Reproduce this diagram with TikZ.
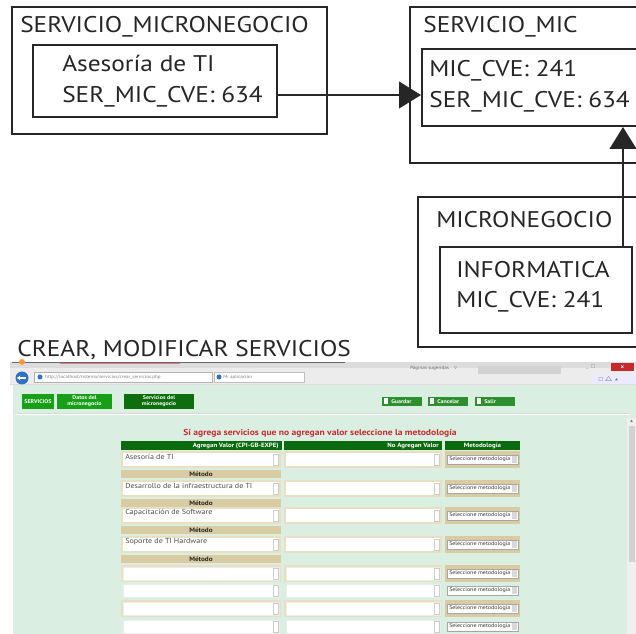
\documentclass[tikz,border=0pt]{standalone}
\usepackage{amssymb}
\usepackage{fontspec}
\setmainfont{PT Sans}[FakeStretch=1.12]
\usetikzlibrary{arrows.meta,fit}

\definecolor{ink}{HTML}{262626}
\definecolor{page}{HTML}{DAEFE2}
\definecolor{hdrgreen}{HTML}{0A6A0E}
\definecolor{btngreen}{HTML}{17A017}
\definecolor{btndark}{HTML}{0E6E0E}
\definecolor{btnmid}{HTML}{2E8F2E}
\definecolor{tan}{HTML}{D9CCA3}
\definecolor{tanlt}{HTML}{E9DFC2}
\definecolor{alert}{HTML}{C4292E}
\definecolor{chrome}{HTML}{DCDCDC}
\definecolor{chromelt}{HTML}{ECECEC}
\definecolor{backblue}{HTML}{2F6FC8}

\tikzset{
  entity/.style={draw=ink, line width=1.5pt, inner sep=0pt},
  ttl/.style={anchor=base west, inner sep=0pt, text=ink, font=\fontsize{17}{20}\selectfont},
  conn/.style={draw=ink, line width=1.7pt, -{Triangle[length=16.5pt,width=20pt]}},
  tiny/.style={inner sep=0pt, font=\fontsize{3.4}{4}\selectfont},
  tinyw/.style={tiny, text=white, font=\fontsize{4}{4.5}\selectfont\bfseries},
  celltext/.style={inner sep=0pt, anchor=west, text=gray!60!black, font=\fontsize{5.4}{6}\selectfont},
  seltext/.style={inner sep=0pt, anchor=west, text=gray!40!black, font=\fontsize{4}{4.5}\selectfont},
  hdrtext/.style={inner sep=0pt, text=white, font=\fontsize{4.6}{5}\selectfont\bfseries},
  bartext/.style={inner sep=0pt, text=gray!30!black, font=\fontsize{4.8}{5.5}\selectfont\bfseries},
}

\begin{document}
\begin{tikzpicture}[x=0.75pt,y=-0.75pt]

% ---------------- entity boxes ----------------
\node[entity, fit={(12,7)(327,134)}] (smOuter) {};
\node[entity, fit={(33,45)(277,117)}] (smInner) {};
\node[ttl] (smTitle) at (20,33) {SERVICIO\_MICRONEGOCIO};
\node[ttl] (smName) at (62,72) {Asesoría de TI};
\node[ttl] (smKey) at (62,103) {SER\_MIC\_CVE: 634};

\node[entity, fit={(410,7)(680,163)}] (mOuter) {};
\node[entity, fit={(422,49)(660,126)}] (mInner) {};
\node[ttl] (mTitle) at (423,33) {SERVICIO\_MIC};
\node[ttl] (mMic) at (429,77) {MIC\_CVE: 241};
\node[ttl] (mSer) at (429,108) {SER\_MIC\_CVE: 634};

\node[entity, fit={(418,197)(680,347)}] (micOuter) {};
\node[entity, fit={(440,247)(632,333)}] (micInner) {};
\node[ttl] (micTitle) at (436,228) {MICRONEGOCIO};
\node[ttl] (micName) at (456,278) {INFORMATICA};
\node[ttl] (micKey) at (456,308) {MIC\_CVE: 241};

% ---------------- relations ----------------
\coordinate (row1) at (0,95);
\coordinate (col1) at (623,0);
\draw[conn] (smInner.east |- row1) -- (mInner.west |- row1);
\draw[conn] (col1 |- micInner.north) -- (col1 |- mInner.south);

% ---------------- caption ----------------
\node[ttl] (caption) at (17,357) {CREAR, MODIFICAR SERVICIOS};

% ---------------- screen capture ----------------
% window chrome
\fill[chrome] (10,362) rectangle (636,385);
\fill[chromelt] (10,368) rectangle (636,384);
\draw[gray!80!black, line width=0.8pt] (12,362.5) -- (345,362.5);
\draw[alert!60, line width=0.5pt] (60,363.5) -- (180,363.5);
\fill[orange!80] (22,362) circle (3);
\fill[backblue] (22,378) circle (6.5);
\draw[white, line width=1.1pt, -{Stealth[length=2.5pt,width=3.5pt]}] (26,378) -- (17,378);
\filldraw[fill=white, draw=gray!60, line width=0.3pt] (34,372) rectangle (212,382);
\fill[backblue] (40,377) circle (2.5);
\node[tiny, anchor=west, text=gray] (url) at (45,377) {http://localhost/sistema/servicios/crear\_servicios.php};
\filldraw[fill=white, draw=gray!50, line width=0.3pt] (214,372) rectangle (304,382);
\fill[backblue] (219,377) circle (2.5);
\node[tiny, anchor=west, text=gray] (tab) at (223,377) {Mi aplicación};
\node[tiny, anchor=west, text=gray!80!black] (sugg) at (410,368) {Páginas sugeridas\quad$\triangledown$};
\fill[gray!35] (478,366) rectangle (561,374);
\node[tiny, anchor=west, text=gray] (winctl) at (586,367) {\_\enspace$\square$};
\fill[alert] (611,363) rectangle (634,371);
\node[tinyw] (winx) at (622.5,367) {x};
\fill[blue!8] (592,375) rectangle (636,384);
\node[tiny, anchor=west, text=gray!70!black] (icons) at (598,379.5) {$\square$\ $\triangle$\ $\star$};

% page area
\fill[page] (13,385) rectangle (636,634);
\draw[white, line width=0.8pt] (15,414.5) -- (630,414.5);
\draw[gray!30, line width=0.4pt] (15,413.5) -- (630,413.5);

% scroll bar
\fill[gray!12] (627,418) rectangle (636,634);
\fill[gray!35] (628.5,426) rectangle (634.5,562);
\node[tiny, text=gray] (scrup) at (631.5,421) {$\blacktriangle$};

% navigation buttons
\fill[btngreen] (22,394) rectangle (54,409);
\node[tinyw] (nav1) at (38,401.5) {SERVICIOS};
\fill[btngreen] (57,394) rectangle (112,409);
\node[tinyw, align=center] (nav2) at (84.5,401.5) {Datos del\\micronegocio};
\fill[btndark] (124,394) rectangle (194,409);
\node[tinyw, align=center] (nav3) at (159,401.5) {Servicios del\\micronegocio};

% action buttons
\foreach \x/\lab in {382/Guardar, 428/Cancelar, 475/Salir}{
  \fill[btnmid] (\x,397) rectangle (\x+40,406);
  \fill[white] (\x+2,398.5) rectangle (\x+6,404.5);
  \node[tinyw, anchor=west] at (\x+9,401.5) {\lab};
}

% instruction
\node[inner sep=0pt, text=alert, font=\fontsize{6.4}{7}\selectfont\bfseries] (hint) at (320,433)
  {Sí agrega servicios que no agregan valor seleccione la metodología};

% table header
\fill[hdrgreen] (121,441) rectangle (282,450);
\fill[hdrgreen] (284,441) rectangle (442,450);
\fill[hdrgreen] (445,441) rectangle (520,450);
\node[hdrtext, anchor=east] (h1) at (279,445.5) {Agregan Valor (CPI-GB-EXPE)};
\node[hdrtext, anchor=east] (h2) at (439,445.5) {No Agregan Valor};
\node[hdrtext] (h3) at (482.5,445.5) {Metodología};

% rows with a method bar below them
\foreach \y/\txt in {452/Asesoría de TI, 481/Desarrollo de la infraestructura de TI, 508/Capacitación de Software, 537/Soporte de TI Hardware}{
  \fill[tanlt] (121,\y-1) rectangle (281,\y+16);
  \fill[white] (123,\y+1) rectangle (279,\y+14);
  \fill[tanlt] (284,\y-1) rectangle (442,\y+16);
  \fill[white] (286,\y+1) rectangle (440,\y+14);
  \draw[gray!40, line width=0.3pt] (273,\y+2) rectangle (278,\y+13);
  \draw[gray!40, line width=0.3pt] (434,\y+2) rectangle (439,\y+13);
  \node[celltext] at (125,\y+5) {\txt};
  \fill[tan] (445,\y-1) rectangle (520,\y+16);
  \filldraw[fill=white, draw=gray!70, line width=0.3pt] (447,\y+3) rectangle (518,\y+12);
  \fill[gray!30] (512,\y+4) rectangle (517,\y+11);
  \node[seltext] at (449,\y+7.5) {Seleccione metodología};
  \fill[tan] (121,\y+18) rectangle (281,\y+26);
  \node[bartext] at (201,\y+22) {Método};
}

% empty rows
\foreach \y/\framed in {566/1, 583/0, 601/1, 619/0}{
  \ifnum\framed=1
    \fill[tanlt] (121,\y-1) rectangle (281,\y+16);
    \fill[tanlt] (284,\y-1) rectangle (442,\y+16);
    \fill[tan] (445,\y-1) rectangle (520,\y+16);
  \fi
  \filldraw[fill=white, draw=gray!15, line width=0.3pt] (123,\y+1) rectangle (279,\y+14);
  \filldraw[fill=white, draw=gray!15, line width=0.3pt] (286,\y+1) rectangle (440,\y+14);
  \draw[gray!40, line width=0.3pt] (273,\y+2) rectangle (278,\y+13);
  \draw[gray!40, line width=0.3pt] (434,\y+2) rectangle (439,\y+13);
  \filldraw[fill=white, draw=gray!70, line width=0.3pt] (447,\y+3) rectangle (518,\y+12);
  \fill[gray!30] (512,\y+4) rectangle (517,\y+11);
  \node[seltext] at (449,\y+7.5) {Seleccione metodología};
}

% page size
\pgfresetboundingbox
\useasboundingbox (0,0) rectangle (636,634);
\end{tikzpicture}
\end{document}
